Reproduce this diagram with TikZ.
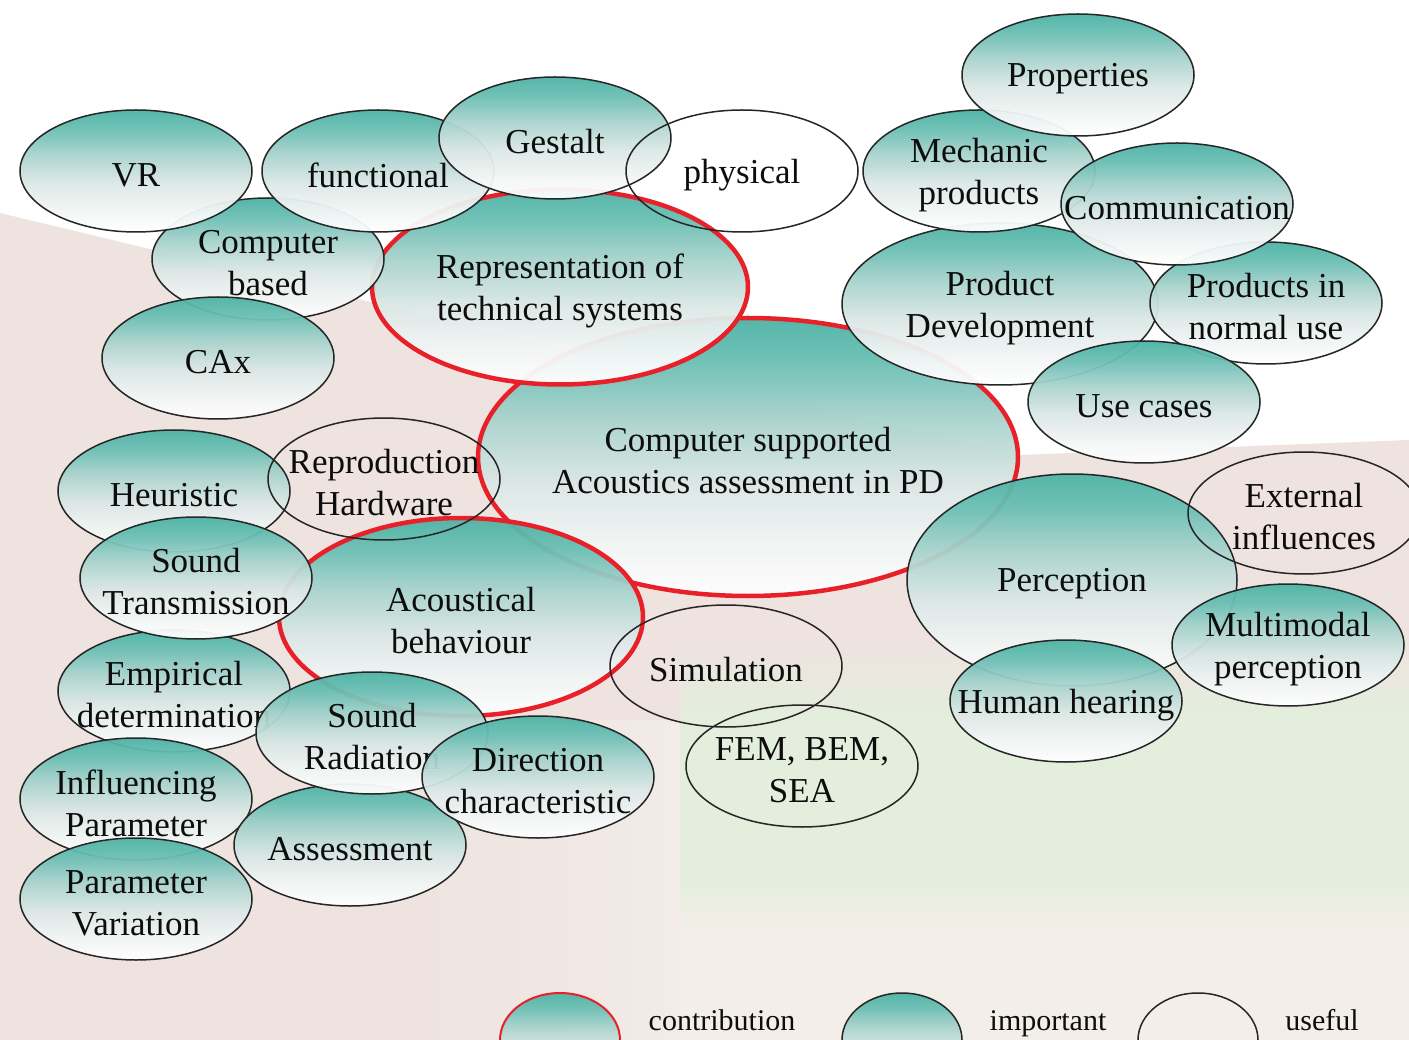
\documentclass[tikz,border=0pt]{standalone}
\usepackage{fontspec}
\setmainfont{Liberation Serif}
\usetikzlibrary{shapes.geometric}
\definecolor{tealc}{HTML}{4DB3A5}
\definecolor{bubB}{HTML}{F4F7F7}
\definecolor{bubC}{HTML}{DCE8E6}
\definecolor{bubD}{HTML}{A8D3CD}
\definecolor{bubE}{HTML}{6BBFB4}
\definecolor{redc}{HTML}{E8202A}
\definecolor{bgpink}{HTML}{EEE3DF}
\definecolor{bgpinkb}{HTML}{F2EBE7}
\definecolor{bggreen}{HTML}{E4EEDD}
\definecolor{bgbeige}{HTML}{F4EEE8}
\pgfdeclareverticalshading{bubshade}{100bp}{color(0bp)=(white); color(25bp)=(white); color(33bp)=(bubB); color(45bp)=(bubC); color(57bp)=(bubD); color(67bp)=(bubE); color(75bp)=(tealc); color(100bp)=(tealc)}
\tikzset{
  bub/.style={ellipse, shade, shading=bubshade, draw=black!85, line width=1.5pt, fill opacity=0.95, draw opacity=1, inner sep=0pt},
  contrib/.style={bub, draw=redc, line width=4.5pt},
  useful/.style={ellipse, draw=black!85, line width=1.5pt, inner sep=0pt},
  lbl/.style={font=\fontsize{35}{42}\selectfont, align=center, text=black!95, inner sep=0pt},
  legtxt/.style={font=\fontsize{30}{36}\selectfont, text=black!95, inner sep=0pt, anchor=base},
}
\newcommand{\bubble}[7]{%
  \node[#1, minimum width=#5pt, minimum height=#6pt] (#2) at (#3,#4) {};
  \node[lbl] (#2t) at ([yshift=-4pt]#2.center) {#7};
}
\begin{document}
\begin{tikzpicture}[x=1pt,y=-1pt]
\useasboundingbox (0,0) rectangle (1409,1040);
% background
\fill[white] (0,0) rectangle (1409,1040);
\fill[bgpink] (0,213) -- (520,338) -- (1020,455) -- (1409,440) -- (1409,1040) -- (0,1040) -- cycle;
\shade[left color=bgpink, right color=bgpinkb] (420,720) rectangle (680,1040);
\shade[top color=bgpink, bottom color=bggreen] (680,640) rectangle (1409,720);
\fill[bggreen] (680,720) rectangle (1409,880);
\shade[top color=bggreen, bottom color=bgbeige] (680,880) rectangle (1409,930);
\fill[bgbeige] (680,930) rectangle (1409,1040);
% contributions
\bubble{contrib}{cent}{748}{457}{540}{278}{Computer supported\\Acoustics assessment in PD}
\bubble{contrib}{rep}{560}{287}{376}{195}{Representation of\\technical systems}
% important (upper left)
\bubble{bub}{cb}{268}{259}{232}{122}{Computer\\based}
\bubble{bub}{vr}{136}{171}{232}{122}{VR}
\bubble{bub}{func}{378}{171}{232}{122}{functional}
\bubble{bub}{gest}{555}{138}{232}{122}{Gestalt}
\bubble{bub}{cax}{218}{358}{232}{122}{CAx}
% upper right
\bubble{bub}{pd}{1000}{304}{316}{162}{Product\\Development}
\bubble{bub}{mech}{979}{171}{232}{122}{Mechanic\\products}
\bubble{bub}{prop}{1078}{75}{232}{122}{Properties}
\bubble{bub}{pinu}{1266}{303}{232}{122}{Products in\\normal use}
\bubble{bub}{comm}{1177}{204}{232}{122}{Communication}
\bubble{bub}{use}{1144}{402}{232}{122}{Use cases}
% right
\bubble{bub}{perc}{1072}{580}{330}{212}{Perception}
\bubble{bub}{hh}{1066}{701}{232}{122}{Human hearing}
\bubble{bub}{mm}{1288}{645}{232}{122}{Multimodal\\perception}
% lower left
\bubble{contrib}{ab}{461}{617}{364}{198}{Acoustical\\behaviour}
\bubble{bub}{heur}{174}{491}{232}{122}{Heuristic}
\bubble{bub}{emp}{174}{691}{232}{122}{Empirical\\determination}
\bubble{bub}{st}{196}{578}{232}{122}{Sound\\Transmission}
\bubble{bub}{inf}{136}{799}{232}{122}{Influencing\\Parameter}
\bubble{bub}{pv}{136}{899}{232}{122}{Parameter\\Variation}
\bubble{bub}{ass}{350}{845}{232}{122}{Assessment}
\bubble{bub}{sr}{372}{733}{232}{122}{Sound\\Radiation}
\bubble{bub}{dir}{538}{777}{232}{122}{Direction\\characteristic}
% useful
\bubble{useful}{phys}{742}{171}{232}{122}{physical}
\bubble{useful}{rh}{384}{479}{232}{122}{Reproduction\\Hardware}
\bubble{useful}{sim}{726}{666}{232}{122}{Simulation}
\bubble{useful}{fem}{802}{766}{232}{122}{FEM, BEM,\\SEA}
\bubble{useful}{ext}{1304}{513}{232}{122}{External\\influences}
% legend
\node[bub, draw=redc, line width=2pt, minimum width=120pt, minimum height=94pt] (legc) at (560,1040) {};
\node[legtxt] (legct) at (722,1030) {contribution};
\node[bub, minimum width=120pt, minimum height=94pt] (legi) at (902,1040) {};
\node[legtxt] (legit) at (1048,1030) {important};
\node[useful, minimum width=120pt, minimum height=94pt] (legu) at (1198,1040) {};
\node[legtxt] (legut) at (1322,1030) {useful};
\end{tikzpicture}
\end{document}
